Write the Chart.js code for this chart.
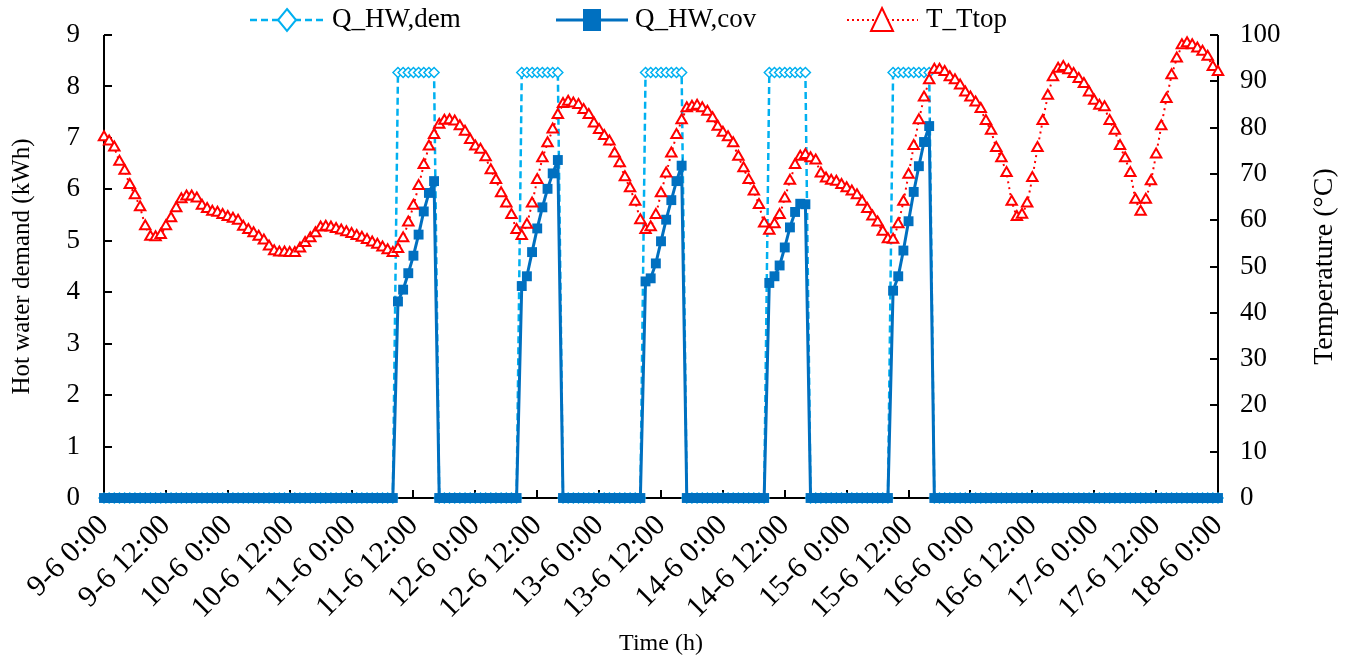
<!DOCTYPE html>
<html>
<head>
<meta charset="utf-8">
<script src="https://cdn.jsdelivr.net/npm/chart.js@4.4.1/dist/chart.umd.min.js"></script>
<style>
  html, body { margin: 0; padding: 0; background: #fff; }
</style>
</head>
<body>
<canvas id="chart" width="1348" height="658"></canvas>
<script>
// one value per hour, 9-6 0:00 .. 18-6 0:00 (217 points)
const tickLabels = ['9-6 0:00', '9-6 12:00', '10-6 0:00', '10-6 12:00', '11-6 0:00', '11-6 12:00',
  '12-6 0:00', '12-6 12:00', '13-6 0:00', '13-6 12:00', '14-6 0:00', '14-6 12:00',
  '15-6 0:00', '15-6 12:00', '16-6 0:00', '16-6 12:00', '17-6 0:00', '17-6 12:00', '18-6 0:00'];

// hot water demand (kWh)
const qDem = [
  0,0,0,0,0,0,0,0,0,0,0,0,0,0,0,0,0,0,0,0,0,0,0,0,
  0,0,0,0,0,0,0,0,0,0,0,0,0,0,0,0,0,0,0,0,0,0,0,0,
  0,0,0,0,0,0,0,0,0,8.27,8.27,8.27,8.27,8.27,8.27,8.27,8.27,0,0,0,0,0,0,0,
  0,0,0,0,0,0,0,0,0,8.27,8.27,8.27,8.27,8.27,8.27,8.27,8.27,0,0,0,0,0,0,0,
  0,0,0,0,0,0,0,0,0,8.27,8.27,8.27,8.27,8.27,8.27,8.27,8.27,0,0,0,0,0,0,0,
  0,0,0,0,0,0,0,0,0,8.27,8.27,8.27,8.27,8.27,8.27,8.27,8.27,0,0,0,0,0,0,0,
  0,0,0,0,0,0,0,0,0,8.27,8.27,8.27,8.27,8.27,8.27,8.27,8.27,0,0,0,0,0,0,0,
  0,0,0,0,0,0,0,0,0,0,0,0,0,0,0,0,0,0,0,0,0,0,0,0,
  0,0,0,0,0,0,0,0,0,0,0,0,0,0,0,0,0,0,0,0,0,0,0,0,
  0
];

// hot water demand covered (kWh)
const qCov = [
  0,0,0,0,0,0,0,0,0,0,0,0,0,0,0,0,0,0,0,0,0,0,0,0,
  0,0,0,0,0,0,0,0,0,0,0,0,0,0,0,0,0,0,0,0,0,0,0,0,
  0,0,0,0,0,0,0,0,0,3.82,4.05,4.37,4.71,5.12,5.57,5.93,6.16,0,0,0,0,0,0,0,
  0,0,0,0,0,0,0,0,0,4.12,4.31,4.78,5.24,5.65,6.01,6.31,6.57,0,0,0,0,0,0,0,
  0,0,0,0,0,0,0,0,0,4.21,4.27,4.56,4.99,5.41,5.79,6.16,6.46,0,0,0,0,0,0,0,
  0,0,0,0,0,0,0,0,0,4.18,4.31,4.52,4.87,5.26,5.56,5.72,5.71,0,0,0,0,0,0,0,
  0,0,0,0,0,0,0,0,0,4.03,4.31,4.81,5.38,5.95,6.45,6.92,7.23,0,0,0,0,0,0,0,
  0,0,0,0,0,0,0,0,0,0,0,0,0,0,0,0,0,0,0,0,0,0,0,0,
  0,0,0,0,0,0,0,0,0,0,0,0,0,0,0,0,0,0,0,0,0,0,0,0,
  0
];

// top tank temperature (°C)
const tTop = [
  77.9, 77.0, 75.7, 72.6, 70.7, 67.6, 65.4, 62.8, 58.7, 56.4, 56.3, 56.8, 58.7, 60.4, 62.6, 64.5, 65.1, 65.1, 64.7, 63.1, 62.4, 61.8, 61.6, 61.1,
  60.7, 60.3, 59.9, 58.6, 57.9, 57.2, 56.4, 55.6, 54.3, 53.3, 53.0, 53.0, 52.9, 52.9, 53.9, 55.1, 56.1, 57.2, 58.4, 58.6, 58.4, 58.1, 57.8, 57.4,
  57.0, 56.6, 56.2, 55.7, 55.2, 54.7, 54.1, 53.5, 52.9, 53.8, 56.1, 59.5, 63.1, 67.4, 71.9, 75.9, 78.4, 80.6, 81.5, 81.6, 81.3, 80.3, 79.1, 77.3,
  75.9, 75.2, 73.6, 70.8, 68.7, 65.8, 63.6, 61.1, 57.9, 56.6, 59.0, 63.6, 68.7, 73.4, 76.6, 79.6, 82.7, 85.1, 85.6, 85.2, 84.9, 83.8, 82.7, 80.9,
  79.5, 78.2, 77.0, 74.4, 72.3, 69.3, 66.9, 64.0, 60.0, 57.9, 58.5, 61.1, 65.8, 70.1, 74.4, 78.4, 81.6, 84.2, 84.5, 84.7, 84.2, 83.4, 82.0, 80.2,
  78.9, 77.9, 76.6, 73.7, 71.2, 68.7, 66.2, 63.3, 59.3, 57.7, 59.1, 61.1, 64.7, 68.5, 71.9, 73.7, 74.1, 73.4, 72.9, 70.1, 69.0, 68.5, 68.3, 67.6,
  66.9, 66.2, 65.4, 64.0, 62.4, 60.8, 59.5, 57.5, 55.9, 55.8, 59.1, 64.0, 69.8, 76.0, 81.6, 86.5, 90.2, 92.5, 92.5, 92.0, 90.9, 90.2, 89.1, 87.6,
  86.5, 85.4, 84.0, 81.4, 79.3, 75.6, 73.4, 70.2, 64.0, 60.7, 61.2, 63.6, 69.1, 75.6, 81.4, 86.9, 90.9, 92.7, 93.1, 92.4, 91.6, 90.5, 89.4, 87.6,
  85.8, 84.7, 84.4, 81.4, 79.3, 76.0, 73.4, 70.2, 64.4, 61.8, 64.4, 68.4, 74.2, 80.3, 86.2, 91.3, 94.9, 97.8, 98.2, 97.8, 97.1, 96.4, 95.3, 93.1,
  92.0
];

const demColor = '#00B0F0';
const covColor = '#0070C0';
const tColor = '#FF0000';
const fontFam = "'Liberation Serif', 'Times New Roman', serif";

Chart.defaults.font.family = fontFam;
Chart.defaults.color = '#000';

const toPts = arr => arr.map((v, i) => ({ x: i, y: v }));

// axes lines + inward tick marks, legend, right title
const decoPlugin = {
  id: 'deco',
  beforeDatasetsDraw(chart) {
    const { ctx, chartArea: a, scales } = chart;
    ctx.save();
    ctx.strokeStyle = '#000';
    ctx.lineWidth = 2;
    ctx.beginPath();
    ctx.moveTo(a.left, a.top); ctx.lineTo(a.left, a.bottom);
    ctx.moveTo(a.left, a.bottom); ctx.lineTo(a.right, a.bottom);
    ctx.moveTo(a.right, a.top); ctx.lineTo(a.right, a.bottom);
    scales.y.ticks.forEach(t => {
      const y = Math.round(scales.y.getPixelForValue(t.value));
      ctx.moveTo(a.left, y); ctx.lineTo(a.left + 8, y);
    });
    scales.y1.ticks.forEach(t => {
      const y = Math.round(scales.y1.getPixelForValue(t.value));
      ctx.moveTo(a.right, y); ctx.lineTo(a.right - 8, y);
    });
    scales.x.ticks.forEach(t => {
      const x = Math.round(scales.x.getPixelForValue(t.value));
      ctx.moveTo(x, a.bottom); ctx.lineTo(x, a.bottom - 8);
    });
    ctx.stroke();
    ctx.restore();
  },
  afterDraw(chart) {
    const { ctx, chartArea: a } = chart;
    ctx.save();
    // right axis title, reads bottom to top
    ctx.font = '28px ' + fontFam;
    ctx.fillStyle = '#000';
    ctx.textAlign = 'center';
    ctx.textBaseline = 'middle';
    ctx.translate(1325, (a.top + a.bottom) / 2);
    ctx.rotate(-Math.PI / 2);
    ctx.fillText('Temperature (°C)', 0, 0);
    ctx.restore();

    // legend
    const ly = 20;
    ctx.save();
    ctx.font = '27px ' + fontFam;
    ctx.textBaseline = 'middle';
    ctx.fillStyle = '#000';
    // Q_HW,dem
    ctx.strokeStyle = demColor; ctx.lineWidth = 2.5; ctx.setLineDash([7, 4]);
    ctx.beginPath(); ctx.moveTo(250, ly); ctx.lineTo(324, ly); ctx.stroke();
    ctx.setLineDash([]);
    ctx.fillStyle = '#fff'; ctx.lineWidth = 2;
    ctx.beginPath(); ctx.moveTo(287, ly - 11); ctx.lineTo(296, ly); ctx.lineTo(287, ly + 11); ctx.lineTo(278, ly); ctx.closePath();
    ctx.fill(); ctx.stroke();
    ctx.fillStyle = '#000';
    ctx.fillText('Q_HW,dem', 332, ly);
    // Q_HW,cov
    ctx.strokeStyle = covColor; ctx.lineWidth = 3;
    ctx.beginPath(); ctx.moveTo(556, ly); ctx.lineTo(628, ly); ctx.stroke();
    ctx.fillStyle = covColor;
    ctx.fillRect(583, ly - 11, 18, 22);
    ctx.fillStyle = '#000';
    ctx.fillText('Q_HW,cov', 635, ly);
    // T_Ttop
    ctx.strokeStyle = tColor; ctx.lineWidth = 2; ctx.setLineDash([2, 3]);
    ctx.beginPath(); ctx.moveTo(847, ly); ctx.lineTo(918, ly); ctx.stroke();
    ctx.setLineDash([]);
    ctx.fillStyle = '#fff';
    ctx.beginPath(); ctx.moveTo(882, ly - 12); ctx.lineTo(893, ly + 11); ctx.lineTo(871, ly + 11); ctx.closePath();
    ctx.fill(); ctx.stroke();
    ctx.fillStyle = '#000';
    ctx.fillText('T_Ttop', 926, ly);
    ctx.restore();
  }
};

// keep plot area fixed: no extra label padding from the value axes
const fitY = w => s => { s.width = w; s.paddingTop = 0; s.paddingBottom = 0; };

new Chart(document.getElementById('chart'), {
  type: 'line',
  data: {
    datasets: [
      {
        label: 'T_Ttop',
        data: toPts(tTop),
        yAxisID: 'y1',
        order: 0,
        borderColor: tColor,
        borderWidth: 2,
        borderDash: [2, 4],
        pointStyle: 'triangle',
        pointRadius: 6,
        pointBorderWidth: 2,
        pointBorderColor: tColor,
        pointBackgroundColor: '#fff',
        clip: false
      },
      {
        label: 'Q_HW,cov',
        data: toPts(qCov),
        yAxisID: 'y',
        order: 1,
        borderColor: covColor,
        borderWidth: 3,
        pointStyle: 'rect',
        pointRadius: 7,
        pointBorderWidth: 0,
        pointBackgroundColor: covColor,
        clip: false
      },
      {
        label: 'Q_HW,dem',
        data: toPts(qDem),
        yAxisID: 'y',
        order: 2,
        borderColor: demColor,
        borderWidth: 2.5,
        borderDash: [7, 4],
        pointStyle: 'rectRot',
        pointRadius: 5,
        pointBorderWidth: 1.5,
        pointBorderColor: demColor,
        pointBackgroundColor: '#fff',
        clip: false
      }
    ]
  },
  options: {
    responsive: false,
    animation: false,
    layout: { padding: { top: 35, left: 0, right: 0, bottom: 0 } },
    plugins: { legend: { display: false }, tooltip: { enabled: false } },
    scales: {
      x: {
        type: 'linear',
        min: 0,
        max: 216,
        grid: { display: false, drawTicks: false },
        border: { display: false },
        ticks: {
          stepSize: 12,
          autoSkip: false,
          minRotation: 45,
          maxRotation: 45,
          padding: 10,
          font: { size: 30 },
          callback: v => tickLabels[v / 12]
        },
        title: { display: true, text: 'Time (h)', font: { size: 24 }, padding: { top: 0, bottom: 0 } },
        afterFit: s => { s.height = 160; s.paddingLeft = 0; s.paddingRight = 0; }
      },
      y: {
        position: 'left',
        min: 0,
        max: 9,
        grid: { display: false, drawTicks: false },
        border: { display: false },
        ticks: { stepSize: 1, padding: 24, font: { size: 27 } },
        title: { display: true, text: 'Hot water demand (kWh)', font: { size: 25 }, padding: { top: 7, bottom: 0 } },
        afterFit: fitY(104)
      },
      y1: {
        position: 'right',
        min: 0,
        max: 100,
        grid: { display: false, drawTicks: false },
        border: { display: false },
        ticks: { stepSize: 10, padding: 22, font: { size: 27 } },
        afterFit: fitY(130)
      }
    }
  },
  plugins: [decoPlugin]
});
</script>
</body>
</html>
